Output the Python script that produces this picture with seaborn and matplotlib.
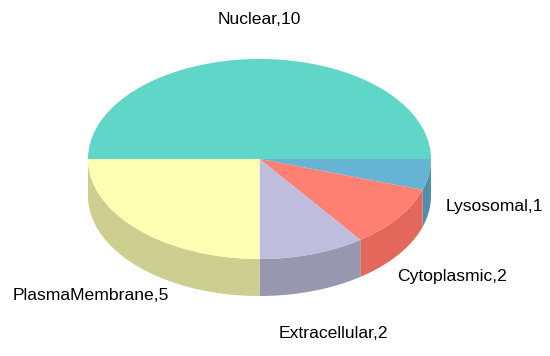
import numpy as np
import seaborn as sns
import matplotlib
matplotlib.use('Agg')
import matplotlib.pyplot as plt

categories = ['Nuclear', 'Lysosomal', 'Cytoplasmic', 'Extracellular', 'PlasmaMembrane']
values = [10, 1, 2, 2, 5]
top_colors = ['#5fd6c8', '#66b3d3', '#fd8073', '#bfbddd', '#ffffb3']
side_colors = ['#4caba0', '#4f8fab', '#e4675c', '#9897b0', '#cccf8f']
# label anchors in pixels of the original picture
label_pos = [(259.5, 19), (494, 206), (452, 276), (333, 334), (91, 296)]

sns.set_theme(style='white')
plt.rcParams['font.family'] = ['Liberation Sans', 'DejaVu Sans']

fig = plt.figure(figsize=(5.5, 3.56), dpi=100)
ax = fig.add_axes([0, 0, 1, 1])
ax.set_xlim(0, 550)
ax.set_ylim(356, 0)
ax.axis('off')

cx, cy, rx, ry, depth = 259.5, 159, 171.5, 100, 37

fracs = np.array(values) / sum(values)
edges = 180 - 360 * np.concatenate([[0], np.cumsum(fracs)])


def arc(a0, a1):
    t = np.radians(np.linspace(a0, a1, 200))
    return cx + rx * np.cos(t), cy - ry * np.sin(t)


# walls first, only the front half of the rim shows
for i in range(len(values)):
    a0, a1 = edges[i], edges[i + 1]
    # angles below 0 are the front
    a0c, a1c = min(a0, 0), max(a1, -180)
    if a0c <= a1c:
        continue
    x, y = arc(a0c, a1c)
    ax.fill(np.r_[x, x[::-1]], np.r_[y, y[::-1] + depth],
            color=side_colors[i], lw=0, zorder=2)

for i in range(len(values)):
    x, y = arc(edges[i], edges[i + 1])
    ax.fill(np.r_[cx, x], np.r_[cy, y], color=top_colors[i], lw=0, zorder=3)

for name, val, (lx, ly) in zip(categories, values, label_pos):
    ax.text(lx, ly, f'{name},{val}', ha='center', va='center',
            fontsize=12.6, color='black')

fig.savefig('out.png', dpi=100)
